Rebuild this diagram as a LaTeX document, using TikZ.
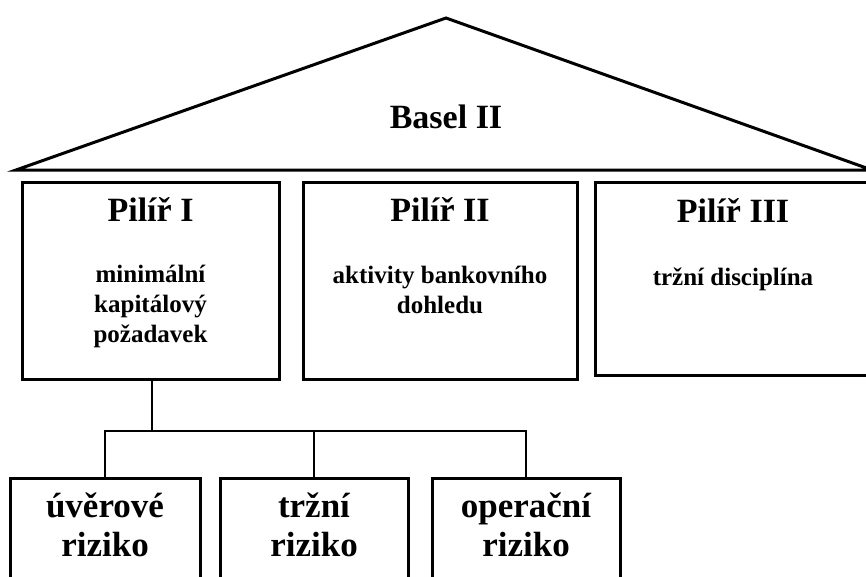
\documentclass[tikz,border=0pt]{standalone}
\usepackage{fontspec}
\setmainfont{Liberation Serif}
\usetikzlibrary{positioning}

\begin{document}
\begin{tikzpicture}[x=1pt,y=-1pt,line join=miter,
    pillar/.style={draw,line width=3pt,inner sep=0pt},
    riskbox/.style={draw,line width=3pt,inner sep=0pt,minimum width=188pt,minimum height=124pt},
    headtext/.style={font=\bfseries\fontsize{34}{40}\selectfont,inner sep=0pt},
    bodytext/.style={font=\bfseries\fontsize{25}{30}\selectfont,align=center,inner sep=0pt},
    risktext/.style={font=\bfseries\fontsize{35}{39}\selectfont,align=center,inner sep=0pt},
    wire/.style={line width=2.5pt}]
	\useasboundingbox (0,0) rectangle (866,576);
    % roof
    \coordinate (roofL) at (16,170);
    \coordinate (roofT) at (446,18);
    \coordinate (roofR) at (872,170);
    \draw[line width=3pt] (roofL) -- (roofT) -- (roofR) -- cycle;
    \node[headtext] (basel) at (446,117) {Basel II};
    % pillars
    \node[pillar,minimum width=257pt,minimum height=197pt] (p1) at (150.5,280.5) {};
    \node[pillar,minimum width=274pt,minimum height=197pt] (p2) at (440,280.5) {};
    \node[pillar,minimum width=276pt,minimum height=193pt] (p3) at (733,278.5) {};
    \node[headtext,below=17pt of p1.north] (t1) {Pilíř I};
    \node[headtext,below=17pt of p2.north] (t2) {Pilíř II};
    \node[headtext,below=18pt of p3.north] (t3) {Pilíř III};
    \node[bodytext,below=43pt of t1] (b1) {minimální\\kapitálový\\požadavek};
    \node[bodytext,below=44pt of t2] (b2) {aktivity bankovního\\dohledu};
    \node[bodytext,below=45pt of t3] (b3) {tržní disciplína};
    % risks
    \node[riskbox,minimum width=190pt] (r1) at (105,540) {};
    \node[riskbox] (r2) at (314,540) {};
    \node[riskbox] (r3) at (526,540) {};
    \node[risktext,below=16pt of r1.north] (k1) {úvěrové\\riziko};
    \node[risktext,below=16pt of r2.north] (k2) {tržní\\riziko};
    \node[risktext,below=16pt of r3.north] (k3) {operační\\riziko};
    % connectors
    \coordinate (bus) at (0,431);
    \coordinate (drop) at ([xshift=1.5pt]p1.south);
    \draw[wire] (drop) -- (drop |- bus);
    \draw[wire] (r1.north) -- (r1.north |- bus) -- (r3.north |- bus) -- (r3.north);
    \draw[wire] (r2.north) -- (r2.north |- bus);
\end{tikzpicture}
\end{document}
